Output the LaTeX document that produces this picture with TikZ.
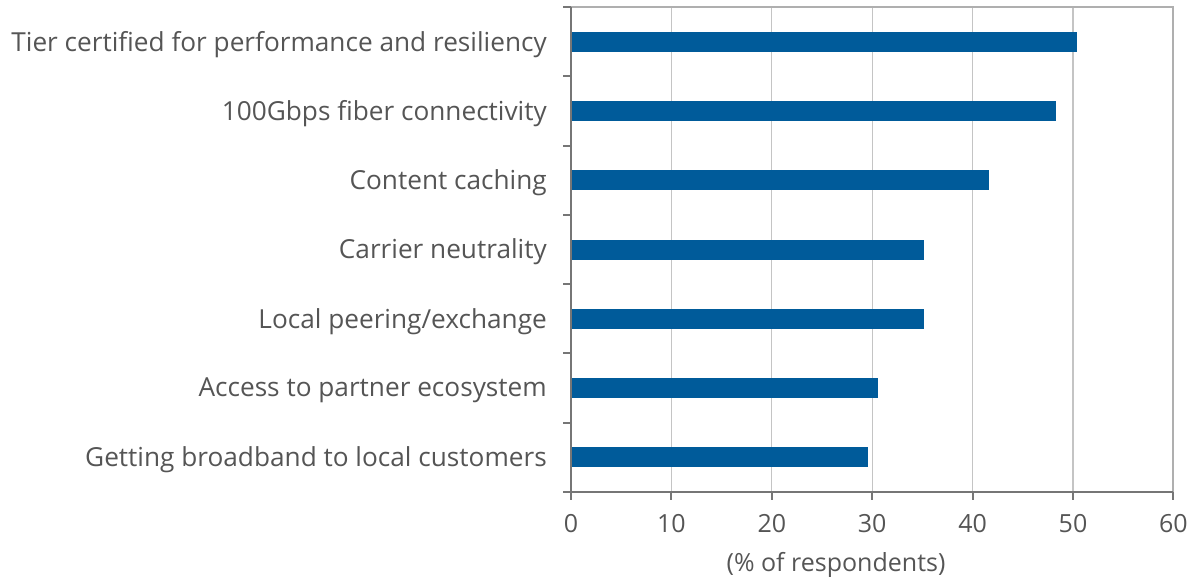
\documentclass[tikz,border=0pt]{standalone}
\usepackage{fontspec}
\setmainfont{Open Sans}
\usetikzlibrary{positioning}
\definecolor{barblue}{RGB}{0,91,154}
\definecolor{txtgrey}{RGB}{85,85,85}
\definecolor{axisgrey}{RGB}{118,118,118}
\definecolor{gridgrey}{RGB}{196,196,196}
\tikzset{
  catlabel/.style={anchor=east, text=txtgrey, inner sep=0pt},
  numlabel/.style={text=txtgrey, inner sep=0pt, font=\fontsize{25}{30}\selectfont},
  hbar/.style={fill=barblue, draw=none, anchor=west, minimum height=20pt, inner sep=0pt},
}

\begin{document}
\begin{tikzpicture}[x=1pt, y=-1pt, font=\fontsize{26.2}{31}\selectfont]
        \useasboundingbox (0,0) rectangle (1195,581);
        % grid lines
        \foreach \v in {10,20,...,60}
            \draw[gridgrey, line width=1.2pt] ({571+10.04*\v},7) -- ({571+10.04*\v},492);
        \draw[gridgrey!70!gray, line width=2pt] (571,7) -- (1173,7) -- (1173,492);
        % bars and category labels
        \foreach \lab/\val [count=\i] in {Tier certified for performance and resiliency/50.4,
                100Gbps fiber connectivity/48.3, Content caching/41.6, Carrier neutrality/35.1,
                {Local peering/exchange}/35.1, Access to partner ecosystem/30.6,
                Getting broadband to local customers/29.6} {
            \node[catlabel] (lab\i) at (547,{9.5+69.29*(\i-0.5)}) {\lab};
            \node[hbar, minimum width={10.04pt*\val}] (bar\i) at (571,{7+69.29*(\i-0.5)}) {};
        }
        % axes
        \draw[axisgrey, line width=2pt] (571,7) -- (571,500);
        \draw[axisgrey, line width=2pt] (563,492) -- (1173,492);
        \foreach \i in {0,...,6}
            \draw[axisgrey, line width=2pt] (563,{7+69.29*\i}) -- (571,{7+69.29*\i});
        \foreach \v in {0,10,...,60} {
            \draw[axisgrey, line width=2pt] ({571+10.04*\v},492) -- ({571+10.04*\v},500);
            \node[numlabel] (tick\v) at ({571+10.04*\v},524) {\v};
        }
        \node[numlabel] (xtitle) at (836,565) {(\% of respondents)};
    \end{tikzpicture}
\end{document}
